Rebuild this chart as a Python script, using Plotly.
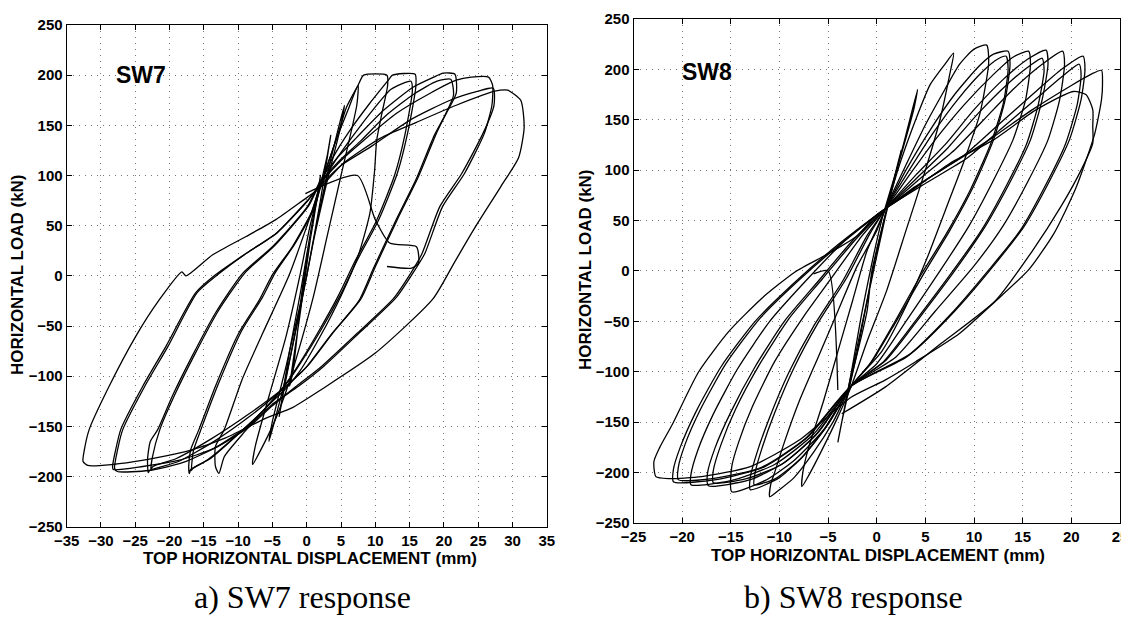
import plotly.graph_objects as go

# ---------------- SW7 (left panel) : displacement (mm), load (kN) ----------------
sw7_f_x = [2.0, 5.3, 10.7, 16.0, 21.8, 27.4, 29.3, 31.2, 31.7, 30.9, 28.3, 24.6, 21.5, 18.4, 10.0, 2.2, -2.0, -6.0, -12.0, -17.0, -24.0, -28.3, -31.9, -32.6, -32.4, -31.7, -28.8, -24.9, -21.5, -18.2, -17.6, -13.7, -8.9, -4.5, -0.6, 2.0]
sw7_f_y = [88, 112, 137, 153, 170, 184, 185, 175, 148, 118, 89, 49, 13, -23, -77, -113, -131, -142, -162, -174, -184, -188, -189, -185, -173, -153, -110, -60, -24, 4, 0, 21, 39, 56, 75, 88]

sw7_e_x = [2.0, 5.0, 9.2, 15.0, 20.9, 25.0, 27.2, 27.3, 25.7, 22.6, 19.4, 16.8, 15.2, 12.6, 7.4, 2.2, -1.5, -5.1, -8.3, -13.5, -18.7, -23.9, -28.2, -28.3, -27.9, -27.1, -23.9, -20.5, -16.2, -13.3, -8.9, -4.5, 0.1, 2.0]
sw7_e_y = [90, 110, 128, 155, 175, 184, 187, 170, 142, 102, 69, 22, 3, -23, -57, -90, -110, -130, -150, -172, -184, -190, -193, -190, -175, -153, -110, -70, -17, 1, 22, 42, 75, 90]

sw7_d_x = [2.0, 5.0, 8.3, 13.1, 18.0, 21.8, 24.0, 26.5, 27.1, 27.0, 25.9, 23.0, 19.8, 17.2, 15.5, 13.0, 7.8, 2.5, -1.2, -5.0, -8.0, -13.0, -18.0, -23.0, -27.6, -28.0, -27.4, -26.8, -23.6, -20.2, -16.0, -13.0, -8.7, -4.3, 0.3, 2.0]
sw7_d_y = [92, 115, 135, 162, 182, 195, 198, 198, 190, 170, 142, 102, 69, 22, 3, -22, -56, -90, -110, -128, -147, -170, -186, -194, -195, -192, -168, -153, -110, -70, -17, 1, 23, 43, 76, 92]

sw7_c_x = [2.0, 4.5, 7.3, 11.2, 15.5, 18.5, 19.9, 21.6, 21.8, 20.2, 18.9, 16.3, 13.2, 10.0, 7.9, 3.8, 0.1, -3.0, -8.3, -13.5, -18.7, -22.9, -23.1, -23.2, -22.8, -21.7, -19.6, -16.7, -13.3, -9.4, -5.0, 0.1, 2.0]
sw7_c_y = [95, 118, 138, 165, 188, 198, 202, 201, 182, 160, 142, 99, 56, 9, -23, -57, -90, -110, -140, -165, -185, -194, -196, -183, -165, -153, -120, -80, -37, 2, 29, 69, 95]

sw7_c2_x = [2.0, 4.8, 7.8, 11.6, 15.8, 19.0, 21.0, 21.4, 20.0, 18.6, 16.0, 12.9, 9.7, 7.6, 3.5, -0.2, -3.2, -8.5, -13.8, -19.0, -22.4, -22.7, -22.5, -21.4, -19.2, -16.3, -12.9, -9.0, -4.7, 0.3, 2.0]
sw7_c2_y = [93, 115, 134, 160, 182, 194, 196, 180, 158, 140, 97, 54, 7, -25, -59, -92, -111, -138, -162, -182, -190, -193, -181, -153, -118, -78, -35, 3, 30, 70, 93]

sw7_b_x = [2.0, 4.0, 6.3, 9.2, 11.9, 12.5, 15.8, 15.9, 14.7, 13.2, 10.5, 7.4, 5.0, 2.0, -1.0, -3.0, -6.0, -10.0, -14.0, -16.9, -17.1, -17.2, -16.9, -15.7, -13.3, -9.9, -6.9, -5.0, -2.1, 0.8, 2.0]
sw7_b_y = [92, 120, 145, 172, 195, 200, 201, 188, 142, 102, 56, 16, -18, -55, -88, -108, -132, -158, -182, -193, -197, -190, -173, -153, -110, -57, -24, 1, 29, 65, 92]

sw7_b2_x = [2.0, 4.3, 6.8, 9.6, 12.3, 15.2, 15.4, 14.3, 12.8, 10.1, 7.0, 4.6, 1.6, -1.3, -3.2, -6.3, -10.4, -14.4, -16.6, -16.8, -16.5, -15.3, -12.9, -9.5, -6.5, -4.6, -1.8, 1.0, 2.0]
sw7_b2_y = [90, 116, 140, 165, 186, 194, 184, 140, 100, 54, 14, -20, -57, -90, -109, -134, -160, -183, -192, -194, -174, -151, -108, -55, -22, 3, 31, 66, 90]

sw7_a_x = [2.0, 4.4, 5.8, 7.5, 8.3, 11.7, 11.8, 10.9, 10.2, 9.9, 9.2, 7.5, 5.0, 2.0, -1.0, -3.0, -6.0, -9.0, -12.0, -12.8, -13.3, -13.3, -12.0, -9.4, -6.4, -2.6, 0.3, 2.0]
sw7_a_y = [90, 138, 168, 190, 200, 200, 190, 160, 135, 105, 62, 20, -20, -60, -95, -112, -132, -155, -180, -197, -190, -170, -153, -103, -57, 0, 55, 90]

sw7_s1_x = [2.0, 4.0, 6.0, 7.5, 7.3, 5.0, 3.0, 1.0, -1.0, -3.0, -5.0, -7.9, -7.5, -5.5, -3.0, -1.0, 0.5, 2.0]
sw7_s1_y = [88, 130, 165, 190, 170, 100, 40, -20, -70, -115, -150, -188, -170, -120, -60, 0, 50, 88]

sw7_s2_x = [0.0, 2.0, 4.0, 5.5, 5.0, 3.0, 1.0, -1.0, -3.0, -5.5, -5.0, -3.0, -1.0, 0.0]
sw7_s2_y = [0, 70, 130, 170, 150, 95, 35, -35, -100, -165, -145, -90, -30, 0]

sw7_s3_x = [0.0, 2.0, 3.5, 3.0, 1.0, -1.0, -2.5, -4.0, -3.5, -1.5, 0.0]
sw7_s3_y = [0, 75, 140, 120, 60, -20, -75, -140, -120, -50, 0]

sw7_s4_x = [-0.5, 1.0, 2.0, 1.7, 0.5, -1.0, -2.5, -2.0, -0.5]
sw7_s4_y = [-5, 55, 100, 85, 35, -40, -110, -95, -5]

sw7_g_x = [-0.2, 7.4, 10.0, 12.1, 16.0, 16.3, 15.3, 11.7]
sw7_g_y = [82, 100, 56, 32.7, 29, 12.7, 7.7, 9.3]

# ---------------- SW8 (right panel) ----------------
sw8_l1_x = [0.9, 2.5, 4.0, 5.5, 7.0, 7.9, 7.5, 6.5, 5.0, 3.0, 1.0, -1.0, -2.6, -4.0, -5.5, -7.0, -7.7, -7.6, -7.0, -5.5, -4.0, -2.5, -1.0, 0.9]
sw8_l1_y = [62, 110, 150, 185, 205, 216, 195, 150, 100, 40, -20, -70, -114, -145, -175, -203, -214, -200, -175, -130, -80, -30, 20, 62]

sw8_l2_x = [0.9, 3.0, 5.0, 7.0, 8.5, 10.0, 11.3, 11.5, 10.6, 8.9, 7.2, 5.1, 3.0, 0.5, -2.6, -4.5, -6.5, -8.5, -10.0, -11.0, -10.9, -10.5, -9.5, -8.0, -6.0, -4.0, -2.0, 0.0, 0.9]
sw8_l2_y = [62, 105, 145, 180, 205, 220, 224, 206, 156, 107, 64, 11, -35, -80, -114, -150, -180, -205, -217, -224, -212, -200, -170, -130, -85, -40, 5, 40, 62]

sw8_l3_x = [0.9, 3.0, 5.5, 8.0, 10.5, 12.0, 13.5, 13.7, 13.2, 12.0, 10.0, 7.5, 5.0, 2.0, -0.5, -2.6, -5.0, -7.5, -10.0, -13.0, -13.0, -12.3, -11.0, -9.0, -6.5, -3.5, -1.0, 0.9]
sw8_l3_y = [62, 100, 140, 175, 203, 215, 218, 205, 170, 130, 85, 40, 0, -50, -90, -114, -152, -183, -205, -217, -205, -180, -145, -100, -55, -10, 35, 62]

sw8_l3b_x = [0.9, 3.2, 5.8, 8.4, 10.9, 12.4, 13.3, 13.5, 13.0, 11.7, 9.6, 7.1, 4.6, 1.7, -0.7, -2.6, -5.2, -7.8, -10.4, -12.6, -12.5, -11.8, -10.5, -8.5, -6.0, -3.1, -0.7, 0.9]
sw8_l3b_y = [62, 98, 137, 171, 198, 210, 213, 200, 166, 126, 80, 36, -3, -53, -92, -114, -155, -186, -206, -212, -200, -176, -141, -96, -51, -7, 37, 62]

sw8_l4_x = [0.9, 3.5, 6.0, 9.0, 12.0, 14.0, 15.6, 15.8, 15.3, 14.0, 12.0, 9.5, 6.5, 3.0, 0.0, -2.6, -5.5, -8.5, -11.5, -14.9, -14.9, -14.2, -12.8, -10.5, -7.5, -4.5, -1.5, 0.9]
sw8_l4_y = [62, 97, 130, 165, 195, 212, 218, 205, 170, 130, 90, 45, 0, -50, -92, -114, -158, -188, -208, -219, -194, -170, -135, -90, -45, -5, 35, 62]

sw8_l5_x = [0.9, 4.0, 7.0, 10.0, 13.0, 15.5, 17.4, 17.6, 17.0, 15.8, 13.8, 11.2, 8.0, 4.5, 1.0, -2.6, -6.0, -9.5, -13.0, -17.3, -17.4, -16.6, -15.0, -12.5, -9.5, -6.0, -2.5, 0.9]
sw8_l5_y = [62, 95, 125, 160, 190, 210, 219, 205, 170, 130, 90, 45, 0, -45, -88, -114, -160, -190, -207, -213, -201, -175, -140, -95, -50, -10, 30, 62]

sw8_l5b_x = [0.9, 4.2, 7.3, 10.4, 13.4, 15.8, 17.0, 17.2, 16.6, 15.4, 13.4, 10.8, 7.6, 4.1, 0.7, -2.6, -6.3, -9.8, -13.4, -16.8, -16.8, -16.0, -14.5, -12.0, -9.0, -5.6, -2.2, 0.9]
sw8_l5b_y = [62, 93, 122, 156, 185, 204, 211, 199, 165, 126, 86, 41, -3, -48, -90, -114, -163, -192, -206, -210, -198, -172, -137, -92, -47, -8, 31, 62]

sw8_l6_x = [0.9, 4.5, 8.0, 11.0, 14.0, 17.0, 19.1, 19.3, 18.8, 17.6, 15.6, 13.0, 10.0, 6.0, 2.0, -2.6, -6.5, -10.5, -15.0, -19.1, -19.1, -18.4, -16.8, -14.3, -11.0, -7.5, -3.5, 0.9]
sw8_l6_y = [62, 92, 120, 150, 180, 205, 218, 205, 170, 130, 90, 45, 5, -40, -85, -114, -162, -192, -208, -212, -202, -178, -142, -97, -50, -12, 28, 62]

sw8_l7_x = [0.9, 5.0, 9.0, 12.5, 16.0, 19.0, 21.2, 21.4, 21.0, 19.8, 17.8, 15.2, 12.0, 8.0, 3.5, -2.6, -7.0, -11.5, -16.5, -20.9, -20.9, -20.2, -18.6, -16.0, -12.5, -8.5, -4.0, 0.9]
sw8_l7_y = [62, 90, 115, 145, 175, 200, 213, 200, 170, 130, 90, 45, 5, -40, -82, -114, -164, -194, -207, -209, -197, -175, -140, -95, -50, -12, 26, 62]

sw8_l7b_x = [0.9, 5.2, 9.3, 12.8, 16.3, 19.2, 20.8, 21.0, 20.6, 19.4, 17.4, 14.8, 11.6, 7.6, 3.1, -2.6, -7.3, -11.9, -16.9, -20.4, -20.4, -19.7, -18.1, -15.5, -12.0, -8.1, -3.7, 0.9]
sw8_l7b_y = [62, 88, 112, 141, 170, 194, 205, 194, 165, 126, 86, 41, 2, -43, -85, -114, -166, -195, -206, -207, -195, -172, -137, -92, -47, -10, 27, 62]

sw8_l8_x = [0.9, 4.0, 8.0, 12.0, 16.0, 20.0, 22.0, 23.1, 23.2, 23.1, 22.4, 20.5, 18.2, 15.6, 12.2, 8.5, 4.0, 0.9, -2.6, -8.0, -13.0, -18.0, -21.4, -22.7, -22.9, -22.3, -21.0, -18.3, -15.2, -11.8, -8.4, -5.0, -2.0, -0.2, 0.9]
sw8_l8_y = [62, 84, 108, 133, 160, 184, 195, 199, 185, 170, 136, 83, 37, 1, -30, -62, -90, -108, -125, -168, -194, -204, -206, -204, -189, -175, -152, -100, -60, -27, -1, 17, 35, 54, 62]

sw8_l9_x = [0.9, 2.7, 7.5, 12.0, 16.4, 20.2, 21.5, 22.2, 22.2, 22.2, 21.0, 19.0, 16.0, 12.2, 6.6, 0.9, -3.6]
sw8_l9_y = [62, 73.5, 106.6, 130, 160, 178, 175, 160, 143, 126.5, 100, 65, 20, -29.5, -72, -115, -141.7]

sw8_s1_x = [0.0, 1.5, 3.0, 4.2, 3.8, 2.5, 0.5, -1.5, -2.6, -4.0, -3.6, -2.0, 0.0]
sw8_s1_y = [20, 80, 135, 180, 160, 115, 50, -40, -100, -170, -150, -80, 20]

sw8_s2_x = [-0.5, 1.0, 2.5, 2.2, 0.8, -1.0, -3.0, -2.6, -1.0, -0.5]
sw8_s2_y = [0, 60, 120, 105, 50, -30, -120, -105, -40, 0]

sw8_g_x = [-6.5, -5.0, -4.0]
sw8_g_y = [-3, 0, -118]

# ---------------- axes / text ----------------
sw7_xticks = list(range(-35, 36, 5))
sw8_xticks = list(range(-25, 26, 5))
load_ticks = list(range(-250, 251, 50))
x_title = "TOP HORIZONTAL DISPLACEMENT (mm)"
y_title = "HORIZONTAL LOAD (kN)"
caption_a = "a) SW7 response"
caption_b = "b) SW8 response"


def tick_text(vals):
    return ["<b>" + (("\u2212" + str(-v)) if v < 0 else str(v)) + "</b>" for v in vals]


sw7_curves = [(sw7_f_x, sw7_f_y), (sw7_e_x, sw7_e_y), (sw7_d_x, sw7_d_y), (sw7_c_x, sw7_c_y),
              (sw7_c2_x, sw7_c2_y), (sw7_b_x, sw7_b_y), (sw7_b2_x, sw7_b2_y), (sw7_a_x, sw7_a_y),
              (sw7_s1_x, sw7_s1_y), (sw7_s2_x, sw7_s2_y), (sw7_s3_x, sw7_s3_y), (sw7_s4_x, sw7_s4_y),
              (sw7_g_x, sw7_g_y)]
sw8_curves = [(sw8_l1_x, sw8_l1_y), (sw8_l2_x, sw8_l2_y), (sw8_l3_x, sw8_l3_y), (sw8_l3b_x, sw8_l3b_y),
              (sw8_l4_x, sw8_l4_y), (sw8_l5_x, sw8_l5_y), (sw8_l5b_x, sw8_l5b_y), (sw8_l6_x, sw8_l6_y),
              (sw8_l7_x, sw8_l7_y), (sw8_l7b_x, sw8_l7b_y), (sw8_l8_x, sw8_l8_y), (sw8_l9_x, sw8_l9_y),
              (sw8_s1_x, sw8_s1_y), (sw8_s2_x, sw8_s2_y), (sw8_g_x, sw8_g_y)]

W, H = 1129, 617
OFF = 8  # the page body margin shifts the figure by 8 px
fig = go.Figure()
line = dict(color="black", width=1.3, shape="spline", smoothing=0.6)
for cx, cy in sw7_curves:
    fig.add_trace(go.Scatter(x=cx, y=cy, mode="lines", line=line, xaxis="x", yaxis="y",
                             showlegend=False, hoverinfo="skip"))
for cx, cy in sw8_curves:
    fig.add_trace(go.Scatter(x=cx, y=cy, mode="lines", line=line, xaxis="x2", yaxis="y2",
                             showlegend=False, hoverinfo="skip"))

tickfont = dict(family="Liberation Sans", size=15, color="black")
common = dict(showline=True, linecolor="black", linewidth=1, mirror="ticks", ticks="inside",
              ticklen=5, tickcolor="black", showgrid=True, gridcolor="#777777", griddash="1px,5px",
              gridwidth=1, zeroline=False, tickfont=tickfont, automargin=False)

px = lambda p: (p - OFF) / W
py = lambda p: 1 - (p - OFF) / H
fig.update_layout(
    width=W, height=H, margin=dict(l=0, r=0, t=0, b=0, autoexpand=False),
    paper_bgcolor="white", plot_bgcolor="white",
    xaxis=dict(domain=[px(66.6), px(546.8)], range=[-35, 35], tickvals=sw7_xticks,
               ticktext=tick_text(sw7_xticks), anchor="y", **common),
    yaxis=dict(domain=[py(526.7), py(25)], range=[-250, 250], tickvals=load_ticks,
               ticktext=tick_text(load_ticks), anchor="x", **common),
    xaxis2=dict(domain=[px(633.5), px(1120)], range=[-25, 25], tickvals=sw8_xticks,
                ticktext=tick_text(sw8_xticks), anchor="y2", **common),
    yaxis2=dict(domain=[py(523), py(18.9)], range=[-250, 250], tickvals=load_ticks,
                ticktext=tick_text(load_ticks), anchor="x2", **common),
)

bold = dict(family="Liberation Sans", size=17, color="black")
serif = dict(family="Liberation Serif", size=32, color="black")
swfont = dict(family="Liberation Sans", size=23, color="black")
base = dict(showarrow=False, xanchor="center", yanchor="middle")
ann = [
    dict(text="<b>SW7</b>", x=-24.2, y=200, xref="x", yref="y", font=swfont, **base),
    dict(text="<b>SW8</b>", x=-17.4, y=197, xref="x2", yref="y2", font=swfont, **base),
    dict(text="<b>" + x_title + "</b>", x=px(310), y=py(558), xref="paper", yref="paper",
         font=bold, **base),
    dict(text="<b>" + x_title + "</b>", x=px(878), y=py(555), xref="paper", yref="paper",
         font=bold, **base),
    dict(text="<b>" + y_title + "</b>", x=px(17), y=py(275), xref="paper", yref="paper",
         textangle=-90, font=bold, **base),
    dict(text="<b>" + y_title + "</b>", x=px(586), y=py(270), xref="paper", yref="paper",
         textangle=-90, font=bold, **base),
    dict(text=caption_a, x=px(302), y=py(597), xref="paper", yref="paper", font=serif, **base),
    dict(text=caption_b, x=px(853), y=py(597), xref="paper", yref="paper", font=serif, **base),
]
fig.update_layout(annotations=ann)
fig.write_html("out.html")
